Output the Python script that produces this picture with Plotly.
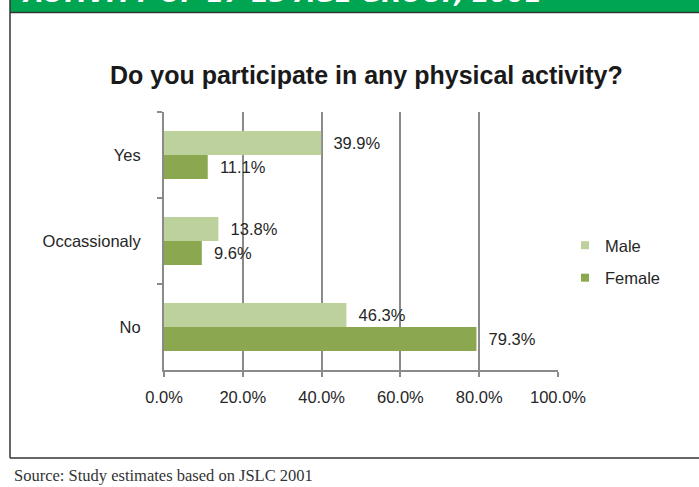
import plotly.graph_objects as go

categories = ["Yes", "Occassionaly", "No"]
male = [0.399, 0.138, 0.463]
female = [0.111, 0.096, 0.793]
series_names = ["Male", "Female"]
series_colors = ["#BCD19B", "#8BA74F"]
x_ticks = [0, 0.2, 0.4, 0.6, 0.8, 1.0]
title_text = "Do you participate in any physical activity?"
banner_text = "ACTIVITY OF 17-23 AGE GROUP, 2001"
source_text = "Source: Study estimates based on JSLC 2001"

W, H = 699, 487
FS = 16.5

def px_x(p):
    return p / W

def px_y(p):
    return 1 - p / H

fig = go.Figure()
for name, vals, col in zip(series_names, [male, female], series_colors):
    fig.add_trace(go.Bar(
        y=categories, x=vals, orientation="h", name=name,
        marker=dict(color=col, line=dict(width=0)),
        texttemplate="  %{x:.1%}", textposition="outside",
        textfont=dict(family="Liberation Sans, Arial", size=FS, color="#262626"),
        cliponaxis=False, showlegend=False,
    ))
# legend entries with small square markers
for name, col in zip(series_names, series_colors):
    fig.add_trace(go.Scatter(
        x=[None], y=[None], mode="markers", name=name,
        marker=dict(symbol="square", size=8, color=col),
        legendgroup=name, showlegend=True,
    ))

fig.update_layout(
    width=W, height=H,
    margin=dict(l=0, r=0, t=0, b=0, autoexpand=False),
    paper_bgcolor="white", plot_bgcolor="white",
    barmode="group", bargap=0.44, bargroupgap=0,
    font=dict(family="Liberation Sans, Arial", size=FS, color="#262626"),
    xaxis=dict(
        domain=[px_x(164), px_x(558)], range=[0, 1],
        tickvals=x_ticks, tickformat=".1%",
        showgrid=True, gridcolor="#8A8A8A", gridwidth=1.5,
        showline=True, linecolor="#8A8A8A", linewidth=1.5,
        ticks="outside", ticklen=5, tickcolor="#8A8A8A", tickwidth=1.5,
        ticklabelstandoff=6,
        zeroline=False, fixedrange=True, automargin=False,
        tickfont=dict(size=FS, color="#262626"),
    ),
    yaxis=dict(
        domain=[px_y(370), px_y(112)],
        autorange="reversed", type="category",
        showline=True, linecolor="#8A8A8A", linewidth=2,
        ticks="outside", ticklen=5, tickcolor="#8A8A8A", tickwidth=1.5,
        tickson="boundaries", ticklabelstandoff=18,
        showgrid=False, zeroline=False, fixedrange=True, automargin=False,
        tickfont=dict(size=FS, color="#262626"),
    ),
    legend=dict(
        x=px_x(565), y=px_y(228), xanchor="left", yanchor="top",
        font=dict(size=FS, color="#262626"),
        tracegroupgap=8, itemwidth=30,
        bgcolor="rgba(0,0,0,0)",
    ),
    annotations=[
        dict(text="<b>" + title_text + "</b>", x=px_x(366), y=px_y(75),
             xref="paper", yref="paper", xanchor="center", yanchor="middle",
             showarrow=False, font=dict(size=25, color="#1a1a1a", family="Liberation Sans, Arial")),
        dict(text="<b><i>" + banner_text + "</i></b>", x=px_x(20), y=px_y(10),
             xref="paper", yref="paper", xanchor="left", yanchor="bottom",
             showarrow=False, font=dict(size=25, color="white", family="DejaVu Sans")),
        dict(text=source_text, x=px_x(12), y=px_y(475),
             xref="paper", yref="paper", xanchor="left", yanchor="middle",
             showarrow=False, font=dict(size=16.5, color="#333333", family="Liberation Serif")),
    ],
    shapes=[
        dict(type="rect", xref="paper", yref="paper", x0=px_x(10), x1=1.01, y0=px_y(12), y1=1.01,
             fillcolor="#00A551", line=dict(width=0), layer="below"),
        dict(type="line", xref="paper", yref="paper", x0=px_x(10), x1=1, y0=px_y(12.5), y1=px_y(12.5),
             line=dict(color="#333333", width=1.5)),
        dict(type="line", xref="paper", yref="paper", x0=px_x(10), x1=px_x(10), y0=px_y(458), y1=px_y(0),
             line=dict(color="#333333", width=1.5)),
        dict(type="line", xref="paper", yref="paper", x0=px_x(10), x1=1, y0=px_y(458), y1=px_y(458),
             line=dict(color="#333333", width=1.5)),
    ],
)

fig.write_html("out.html", config={"displayModeBar": False},
               post_script="document.body.style.margin='0';")
